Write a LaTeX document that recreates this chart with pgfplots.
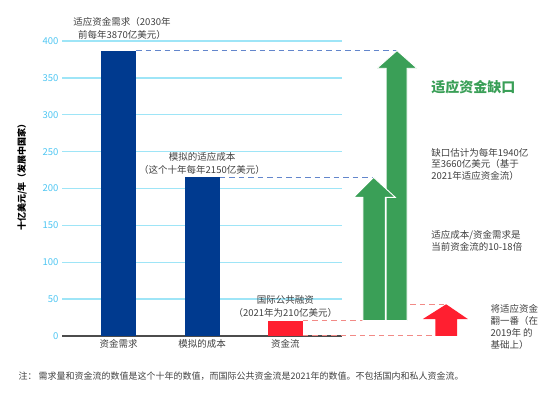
\documentclass[border=0pt]{standalone}
\usepackage{fontspec}
\setmainfont{Noto Sans CJK SC}
\usepackage{pgfplots}
\pgfplotsset{compat=1.18}
\definecolor{barblue}{HTML}{003A8F}
\definecolor{gapgreen}{HTML}{3A9F57}
\definecolor{redfill}{HTML}{FF1F30}
\definecolor{gridcyan}{HTML}{9EE5F7}
\definecolor{tickcyan}{HTML}{4FC6F2}
\definecolor{txt}{HTML}{404040}
\definecolor{dashblue}{HTML}{6386CC}
\definecolor{dashred}{HTML}{F28A86}
\begin{document}
\begin{tikzpicture}
\path[use as bounding box] (0,0) rectangle (548pt,395pt);
\begin{axis}[
  at={(62pt,59pt)}, anchor=south west,
  scale only axis, width=280pt, height=295pt,
  xmin=-0.68, xmax=2.68, ymin=0, ymax=400,
  axis x line=bottom, axis y line=left,
  axis line style={-},
  y axis line style={draw=none},
  x axis line style={draw=black!70, line width=1.2pt},
  ytick={0,50,...,400},
  xtick={0,1,2},
  xticklabels={资金需求,模拟的成本,资金流},
  major tick length=0pt,
  ymajorgrids, grid style={gridcyan, line width=1.3pt},
  /pgf/number format/assume math mode=true,
  yticklabel style={tickcyan, font=\fontsize{9.5}{11}\selectfont},
  xticklabel style={txt, font=\fontsize{9.5}{11}\selectfont},
  clip=false,
  no markers,
]
% dashed guide lines
\addplot[dashblue, line width=1pt, dash pattern=on 5.5pt off 4pt] coordinates {(0.21,387) (3.34,387)};
\addplot[dashblue, line width=1pt, dash pattern=on 5.5pt off 4pt] coordinates {(1.21,215) (3.06,215)};
\addplot[dashred, line width=1pt, dash pattern=on 5.5pt off 4pt] coordinates {(2.21,21) (3.46,21)};
\addplot[dashred, line width=1pt, dash pattern=on 5.5pt off 4pt] coordinates {(2.93,43) (3.93,43)};
\addplot[dashred, line width=1pt, dash pattern=on 5.5pt off 4pt] coordinates {(2.21,0) (3.80,0)};
% bars
\addplot[ybar, bar width=35pt, bar shift=0pt, fill=barblue, draw=none] coordinates {(0,387)};
\addplot[ybar, bar width=35pt, bar shift=0pt, fill=barblue, draw=none] coordinates {(1,215)};
\addplot[ybar, bar width=35pt, bar shift=0pt, fill=redfill, draw=none] coordinates {(2,21)};
% arrows
\addplot[fill=gapgreen, draw=white, line width=0.9pt] coordinates {(3.21,21) (3.21,363) (3.10,363) (3.34,387) (3.58,363) (3.46,363) (3.46,21)} -- cycle;
\addplot[fill=gapgreen, draw=white, line width=0.9pt] coordinates {(2.93,21) (2.93,188) (2.82,188) (3.06,215) (3.32,188) (3.20,188) (3.20,21)} -- cycle;
\addplot[fill=redfill, draw=none] coordinates {(3.80,0) (3.80,23) (3.65,23) (3.93,43) (4.19,23) (4.06,23) (4.06,0)} -- cycle;
% annotations
\node[txt, align=center, font=\fontsize{9.5}{13}\selectfont] at (axis cs:0.04,417) {适应资金需求（2030年\\前每年3870亿美元）};
\node[txt, align=center, font=\fontsize{9.5}{13}\selectfont] at (axis cs:1.0,234) {模拟的适应成本\\（这个十年每年2150亿美元）};
\node[txt, align=center, font=\fontsize{9.5}{13}\selectfont] at (axis cs:2.0,40) {国际公共融资\\（2021年为210亿美元）};
\node[gapgreen, anchor=west, font=\bfseries\fontsize{14}{16}\selectfont] at (axis cs:3.71,337) {适应资金缺口};
\node[txt, anchor=west, align=left, font=\fontsize{9.5}{11.5}\selectfont] at (axis cs:3.71,233) {缺口估计为每年1940亿\\至3660亿美元（基于\\2021年适应资金流）};
\node[txt, anchor=west, align=left, font=\fontsize{9.5}{12}\selectfont] at (axis cs:3.71,129) {适应成本/资金需求是\\当前资金流的10-18倍};
\node[txt, anchor=west, align=left, font=\fontsize{9.5}{12}\selectfont] at (axis cs:4.42,12) {将适应资金\\翻一番（在\\2019年 的\\基础上）};
\node[txt, anchor=west, font=\fontsize{9}{11}\selectfont] at (axis cs:-1.244,-54) {注： 需求量和资金流的数值是这个十年的数值，而国际公共资金流是2021年的数值。不包括国内和私人资金流。};
\node[black, rotate=90, font=\bfseries\fontsize{9}{11}\selectfont] at (axis cs:-1.16,218) {十亿美元/年（发展中国家）};
\end{axis}
\end{tikzpicture}
\end{document}
